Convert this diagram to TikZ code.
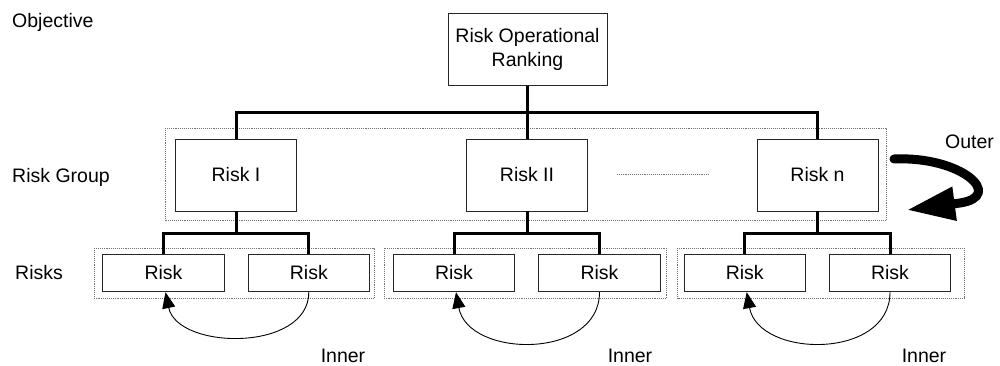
\documentclass[tikz,border=0pt]{standalone}
\usepackage{fontspec}
\setmainfont{Liberation Sans}
\usetikzlibrary{arrows.meta,calc}
\begin{document}
\begin{tikzpicture}[x=1pt,y=-1pt,
  every node/.style={font=\fontsize{19.5}{24}\selectfont, inner sep=0pt},
  box/.style={draw=black!85, line width=0.9pt, align=center},
  bigbox/.style={box, minimum width=121pt, minimum height=72pt},
  smallbox/.style={box, minimum width=121.5pt, minimum height=37.5pt},
  container/.style={draw=black!55, densely dotted, line width=0.9pt},
  bus/.style={line width=3pt, black},
  innerarc/.style={line width=0.9pt, -{Triangle[length=16pt,width=13pt]}},
  label/.style={anchor=west}]
\useasboundingbox (0,0) rectangle (1000,366);

% containers
\draw[container] (165,128.3) rectangle (886,220);
\draw[container] (94.3,248.3) rectangle (374.3,298.3);
\draw[container] (384.3,248.3) rectangle (666.7,298.3);
\draw[container] (677.7,248.3) rectangle (964,298.3);

% nodes
\node[box, minimum width=159pt, minimum height=72pt] (top) at (527.5,49.5) {Risk Operational\\Ranking};
\node[bigbox] (r1) at (236,175) {Risk I};
\node[bigbox] (r2) at (527,175) {Risk II};
\node[bigbox] (rn) at (817.5,175) {Risk n};

\node[smallbox] (a1) at (163.5,273) {Risk};
\node[smallbox] (a2) at (308.8,273) {Risk};
\node[smallbox] (b1) at (454,273) {Risk};
\node[smallbox] (b2) at (599.5,273) {Risk};
\node[smallbox] (c1) at (744.7,273) {Risk};
\node[smallbox] (c2) at (890,273) {Risk};

\coordinate (busA) at (0,113);
\coordinate (busB) at (0,233);

% top bus
\draw[bus] (top.south) -- (top.south |- busA);
\draw[bus] (r1.north) -- (r1.north |- busA) -- (rn.north |- busA) -- (rn.north);
\draw[bus] (r2.north) -- (r2.north |- busA);

% lower buses
\draw[bus] (r1.south) -- (r1.south |- busB);
\draw[bus] (a1.north) -- (a1.north |- busB) -- (a2.north |- busB) -- (a2.north);
\draw[bus] (r2.south) -- (r2.south |- busB);
\draw[bus] (b1.north) -- (b1.north |- busB) -- (b2.north |- busB) -- (b2.north);
\draw[bus] (rn.south) -- (rn.south |- busB);
\draw[bus] (c1.north) -- (c1.north |- busB) -- (c2.north |- busB) -- (c2.north);

% ellipsis line
\draw[black!55, densely dotted, line width=0.9pt] ($(r2.east)+(29,-0.7)$) -- ($(rn.west)+(-47,-0.7)$);

% inner arcs
\draw[innerarc] (a2.south) .. controls +(0,60) and +(12,58) .. ([xshift=2pt]a1.south);
\draw[innerarc] (b2.south) .. controls +(0,68) and +(12,66) .. ([xshift=2pt]b1.south);
\draw[innerarc] (c2.south) .. controls +(0,68) and +(12,66) .. ([xshift=2pt]c1.south);

% outer arrow
\coordinate (os) at (894,159);
\coordinate (om) at (960,203);
\coordinate (oe) at (907,210);
\draw[line width=9pt, line cap=round, -{Triangle[length=48pt,width=32pt]}] (os) .. controls (962,156) and (1005,196) .. (om) -- (oe);

% labels
\node[label] (lobj) at (12,22) {Objective};
\node[label] (lgrp) at (12,177) {Risk Group};
\node[label] (lrisks) at (15,273) {Risks};
\node[label] (lout) at (945,142) {Outer};
\node (in1) at (343,356) {Inner};
\node (in2) at (630,356) {Inner};
\node (in3) at (924,356) {Inner};
\end{tikzpicture}
\end{document}
